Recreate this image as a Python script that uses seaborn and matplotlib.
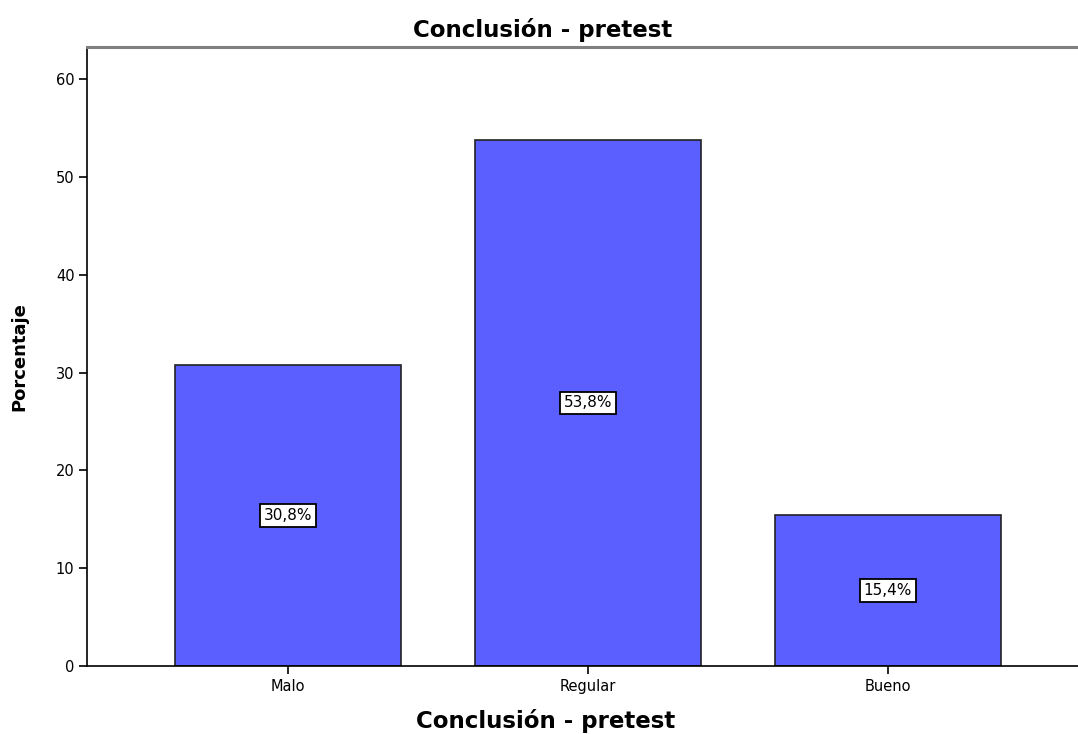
import matplotlib
matplotlib.use("Agg")
import matplotlib.pyplot as plt
import seaborn as sns
import pandas as pd

categories = ["Malo", "Regular", "Bueno"]
percentages = [30.8, 53.8, 15.4]
bar_labels = ["30,8%", "53,8%", "15,4%"]

sns.set_style("ticks")
plt.rcParams["font.family"] = ["DejaVu Sans"]

df = pd.DataFrame({"cat": categories, "pct": percentages})

fig = plt.figure(figsize=(10.78, 7.34), dpi=100)
ax = fig.add_axes([0.0807, 0.0926, 0.9295, 0.8433])

sns.barplot(data=df, x="cat", y="pct", color="#5B5FFF", saturation=1,
            width=0.753, edgecolor="#222222", linewidth=1.2, ax=ax)

for i, (v, lab) in enumerate(zip(percentages, bar_labels)):
    ax.text(i, v / 2, lab, ha="center", va="center", fontsize=11,
            color="black",
            bbox=dict(boxstyle="square,pad=0.25", facecolor="white",
                      edgecolor="black", linewidth=1.3))

ax.set_xlim(-0.67, 2.67)
ax.set_ylim(0, 63.3)
ax.set_yticks(range(0, 61, 10))
ax.tick_params(axis="both", direction="out", length=6, width=1.2,
               labelsize=10.5, color="black", labelcolor="black")
ax.tick_params(axis="y", pad=3)
ax.tick_params(axis="x", pad=3)
for s in ax.spines.values():
    s.set_linewidth(1.2)
    s.set_color("black")
ax.spines["top"].set_color("#808080")
ax.spines["top"].set_linewidth(2.2)

# title and x label are centred on the figure, not on the (cropped) axes
ax.set_title("Conclusión - pretest", fontsize=16.5, fontweight="bold",
             color="black", pad=7, x=0.455)
ax.set_xlabel("Conclusión - pretest", fontsize=16.5, fontweight="bold",
              color="black")
ax.xaxis.set_label_coords(0.458, -0.07)
ax.set_ylabel("Porcentaje", fontsize=13, fontweight="bold", color="black",
              labelpad=20)

fig.savefig("out.png", dpi=100)
